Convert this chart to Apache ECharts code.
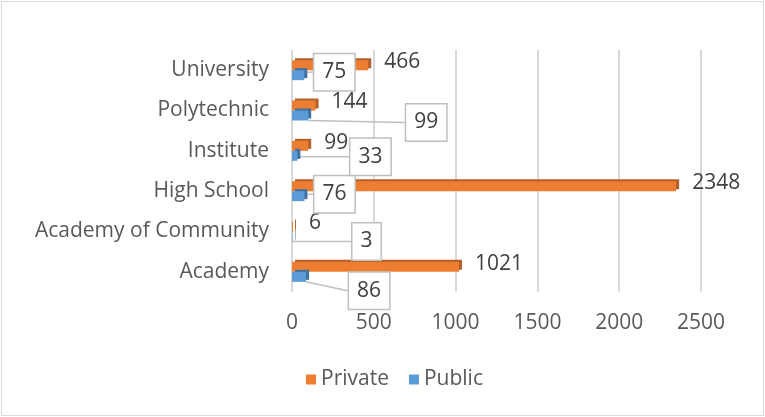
<!DOCTYPE html>
<html>
<head>
<meta charset="utf-8">
<script src="https://cdn.jsdelivr.net/npm/echarts@6/dist/echarts.min.js"></script>
<style>
  html, body { margin: 0; padding: 0; background: #fff; }
  #chart { position: absolute; left: 1px; top: 1px; width: 761px; height: 413px; border: 1px solid #d9d9d9; }
</style>
</head>
<body>
<div id="chart"></div>
<script>
// data
var categories = ['Academy', 'Academy of Community', 'High School', 'Institute', 'Polytechnic', 'University'];
var privateValues = [1021, 6, 2348, 99, 144, 466];
var publicValues = [86, 3, 76, 33, 99, 75];
var xTicks = [0, 500, 1000, 1500, 2000, 2500];

// where the boxed public labels sit, relative to their default spot
var publicLabelShift = [[38, 14], [55, 5], [5, -2], [48, 1], [93, 7], [5, -3]];

var font = '"Open Sans", sans-serif';
var textColor = '#595959';
var chart = echarts.init(document.getElementById('chart'));

chart.setOption({
  animation: false,
  grid: { left: 290, right: 62, top: 48, bottom: 123 },
  legend: {
    bottom: 20,
    left: 299,
    itemWidth: 10,
    itemHeight: 10,
    itemGap: 20,
    icon: 'rect',
    textStyle: { fontFamily: font, fontSize: 21, color: textColor },
    data: ['Private', 'Public']
  },
  xAxis: {
    type: 'value',
    min: xTicks[0],
    max: xTicks[xTicks.length - 1],
    interval: 500,
    axisLine: { show: false },
    axisTick: { show: false },
    axisLabel: {
      margin: 21,
      fontFamily: font,
      fontSize: 21,
      color: textColor,
      formatter: function (v) { return String(v); }
    },
    splitLine: { lineStyle: { color: '#d9d9d9', width: 2 } }
  },
  yAxis: {
    type: 'category',
    data: categories,
    axisLine: { show: false },
    axisTick: { show: false },
    axisLabel: { margin: 23, fontFamily: font, fontSize: 21, color: textColor }
  },
  series: [
    {
      name: 'Private',
      type: 'bar',
      data: privateValues,
      barWidth: 10,
      barGap: '0%',
      itemStyle: {
        color: '#ED7D31',
        shadowColor: '#B3602A',
        shadowOffsetX: 3,
        shadowOffsetY: -2,
        shadowBlur: 0
      },
      label: {
        show: true,
        position: 'right',
        distance: 16,
        offset: [0, -3],
        fontFamily: font,
        fontSize: 21,
        color: '#404040'
      }
    },
    {
      name: 'Public',
      type: 'bar',
      data: publicValues,
      barWidth: 10,
      itemStyle: {
        color: '#5B9BD5',
        shadowColor: '#3E72A3',
        shadowOffsetX: 3,
        shadowOffsetY: -2,
        shadowBlur: 0
      },
      label: {
        show: true,
        position: 'right',
        fontFamily: font,
        fontSize: 21,
        lineHeight: 22,
        color: '#404040',
        backgroundColor: '#fff',
        borderColor: '#bfbfbf',
        borderWidth: 1.5,
        padding: [7, 8]
      },
      labelLine: { show: true, lineStyle: { color: '#bfbfbf', width: 1.5 } },
      labelLayout: function (params) {
        var s = publicLabelShift[params.dataIndex];
        return { dx: s[0], dy: s[1] };
      }
    }
  ]
});
</script>
</body>
</html>
